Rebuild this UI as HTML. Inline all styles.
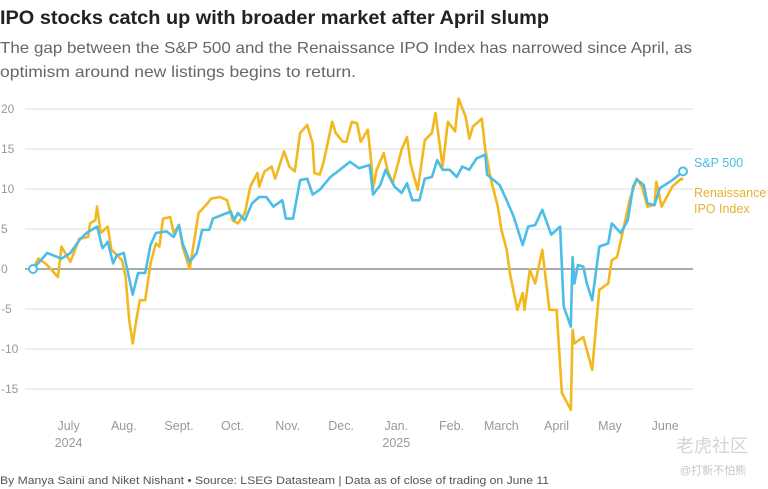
<!DOCTYPE html>
<html><head><meta charset="utf-8"><style>
html,body{margin:0;padding:0;background:#fff;}
svg{display:block;font-family:"Liberation Sans","Noto Sans CJK SC",sans-serif;}
</style></head><body>
<svg id="chart" width="768" height="489" viewBox="0 0 768 489" xmlns="http://www.w3.org/2000/svg">
<text x="0" y="24" font-size="19" font-weight="bold" fill="#222" textLength="549" lengthAdjust="spacingAndGlyphs">IPO stocks catch up with broader market after April slump</text>
<text x="0" y="53" font-size="16" fill="#666" textLength="692" lengthAdjust="spacingAndGlyphs">The gap between the S&amp;P 500 and the Renaissance IPO Index has narrowed since April, as</text>
<text x="0" y="77" font-size="16" fill="#666" textLength="356" lengthAdjust="spacingAndGlyphs">optimism around new listings begins to return.</text>
<g id="grid"></g>
<g id="xaxis"></g>
<g id="series"></g>
<text x="694" y="167" font-size="12.5" fill="#4bbde8">S&amp;P 500</text>
<text x="694" y="197" font-size="12.5" fill="#e8b030">Renaissance</text>
<text x="694" y="213" font-size="12.5" fill="#e8b030">IPO Index</text>
<text x="0" y="484" font-size="11" fill="#555" textLength="549" lengthAdjust="spacingAndGlyphs">By Manya Saini and Niket Nishant  • Source: LSEG Datasteam | Data as of close of trading on June 11</text>
<text x="676" y="452" font-size="18" fill="#d4d4d4">老虎社区</text>
<text x="680" y="474" font-size="11" fill="#c4c4c4">@打新不怕熊</text>
</svg>
<script>
const yTicks = [20, 15, 10, 5, 0, -5, -10, -15];
const monthLabels = ["July","Aug.","Sept.","Oct.","Nov.","Dec.","Jan.","Feb.","March","April","May","June"];
const monthDays = [20, 51, 82, 112, 143, 173, 204, 235, 263, 294, 324, 355];
const yearLabels = ["2024","2025"];
const yearDays = [20, 204];
const spDays = [0,8,16,21,26,30,36,39,42,45,47,51,52,56,59,63,66,69,75,79,82,84,88,92,95,99,101,109,111,113,115,119,123,127,131,135,140,142,146,150,154,157,161,167,170,178,183,189,191,195,198,203,207,210,213,217,220,224,227,230,234,238,241,245,249,254,255,262,266,270,275,278,282,286,291,296,298,302,303,304,306,309,311,314,318,323,325,330,334,337,339,343,345,349,352,359,364,365];
const spValues = [0,2,1.3,2,3.6,4.5,5.3,2.6,3.4,0.7,1.7,2,0.9,-3.2,-0.5,-0.5,3,4.5,4.7,4,5.5,3.2,0.9,2,4.9,4.9,6.3,7,7.2,6.1,7,6.1,8.2,9,9,7.8,8.6,6.3,6.3,11.1,11.3,9.3,9.9,11.5,12,13.4,12.6,13,9.3,10.5,12.4,10.3,9.5,10.7,8.6,8.6,11.3,11.5,13.6,12.4,12.4,11.5,12.8,12.4,13.8,14.3,11.8,10.5,8.6,6.5,3,5.3,5.5,7.4,4.3,5.3,-4.7,-7.2,1.5,-1.8,0.5,0.3,-1.8,-3.9,2.8,3.2,5.7,4.5,6.1,10.3,11.2,10.5,8.2,8,10.1,11.1,12,12.2];
const ipoDays = [0,3,7,10,14,16,21,26,31,32,35,36,38,42,44,46,50,52,54,56,58,60,63,66,69,71,73,77,79,82,84,88,93,98,100,105,109,112,115,119,122,126,127,130,134,136,141,144,147,150,154,157,158,161,163,168,170,174,176,179,182,184,188,190,191,193,197,199,202,207,210,212,216,220,224,226,230,233,237,239,243,245,247,252,254,257,261,263,266,268,272,275,276,279,282,286,290,294,297,302,303,304,309,314,318,323,325,328,331,335,339,342,345,349,350,353,359,364,365];
const ipoValues = [0,1.3,0.7,0,-1,2.8,0.9,3.8,4,5.7,6.1,7.8,4.5,5.3,2.4,2,1.1,-1,-6.4,-9.3,-6.4,-3.9,-3.9,0.7,3.2,2.8,6.3,6.5,4.5,5.5,2.8,0,7,8.2,8.8,9,8.6,6.1,5.7,7,10.3,12,10.3,12.2,12.8,11.3,14.7,12.8,12.2,17,18,15.7,12,11.8,13.2,18.4,17,15.9,15.9,18.4,18.2,15.9,17.4,13.2,10.1,12.4,14.5,12.4,10.7,14.9,16.5,13.2,9.9,16.1,17,19.5,12.8,18.4,17.2,21.3,19,16.3,17.8,18.8,14.9,11.3,7.8,4.9,2.4,-0.8,-5.1,-3,-5.1,-0.1,-1.8,2.4,-5.1,-5.1,-15.5,-17.6,-7.6,-9.3,-8.5,-12.6,-2.6,-1.8,1.1,1.5,4.5,8.6,11.3,10.3,7.8,8,10.9,7.8,10.3,11.3,11.1];

const NS = "http://www.w3.org/2000/svg";
const xs = d => 33 + d * 650 / 365;
const ys = v => 269 - v * 8;
function mk(tag, attrs, parent) {
  const e = document.createElementNS(NS, tag);
  for (const k in attrs) e.setAttribute(k, attrs[k]);
  parent.appendChild(e);
  return e;
}
const grid = document.getElementById('grid');
yTicks.forEach(t => {
  const l = mk('line', {x1: 25, x2: 693, y1: ys(t), y2: ys(t), stroke: t === 0 ? '#555' : '#ddd', 'stroke-width': 1}, grid);
  
  
  const tx = mk('text', {x: 1, y: ys(t) + 4, 'font-size': 12, fill: '#999'}, grid);
  tx.textContent = t < 0 ? '-' + Math.abs(t) : String(t);
  
  
});
const xa = document.getElementById('xaxis');
monthLabels.forEach((m, i) => {
  const tx = mk('text', {x: xs(monthDays[i]), y: 430, 'font-size': 12.5, fill: '#999', 'text-anchor': 'middle'}, xa);
  tx.textContent = m;
  
  
});
yearLabels.forEach((y, i) => {
  const tx = mk('text', {x: xs(yearDays[i]), y: 447, 'font-size': 12.5, fill: '#999', 'text-anchor': 'middle'}, xa);
  tx.textContent = y;
  
  
});
const sg = document.getElementById('series');
function line(days, vals, color, name) {
  const d = days.map((dd, i) => (i ? 'L' : 'M') + xs(dd).toFixed(1) + ',' + ys(vals[i]).toFixed(1)).join(' ');
  const p = mk('path', {d: d, fill: 'none', stroke: color, 'stroke-width': 2.6, 'stroke-linejoin': 'round'}, sg);
  
  
}
line(ipoDays, ipoValues, '#f2b81f', 'renaissance-ipo-line');
line(spDays, spValues, '#4bbde8', 'sp500-line');
const c0 = mk('circle', {cx: xs(spDays[0]), cy: ys(spValues[0]), r: 4, fill: '#fff', stroke: '#4bbde8', 'stroke-width': 2}, sg);


const c1 = mk('circle', {cx: xs(spDays[spDays.length - 1]), cy: ys(spValues[spValues.length - 1]), r: 4, fill: '#fff', stroke: '#4bbde8', 'stroke-width': 2}, sg);


</script>
</body></html>
